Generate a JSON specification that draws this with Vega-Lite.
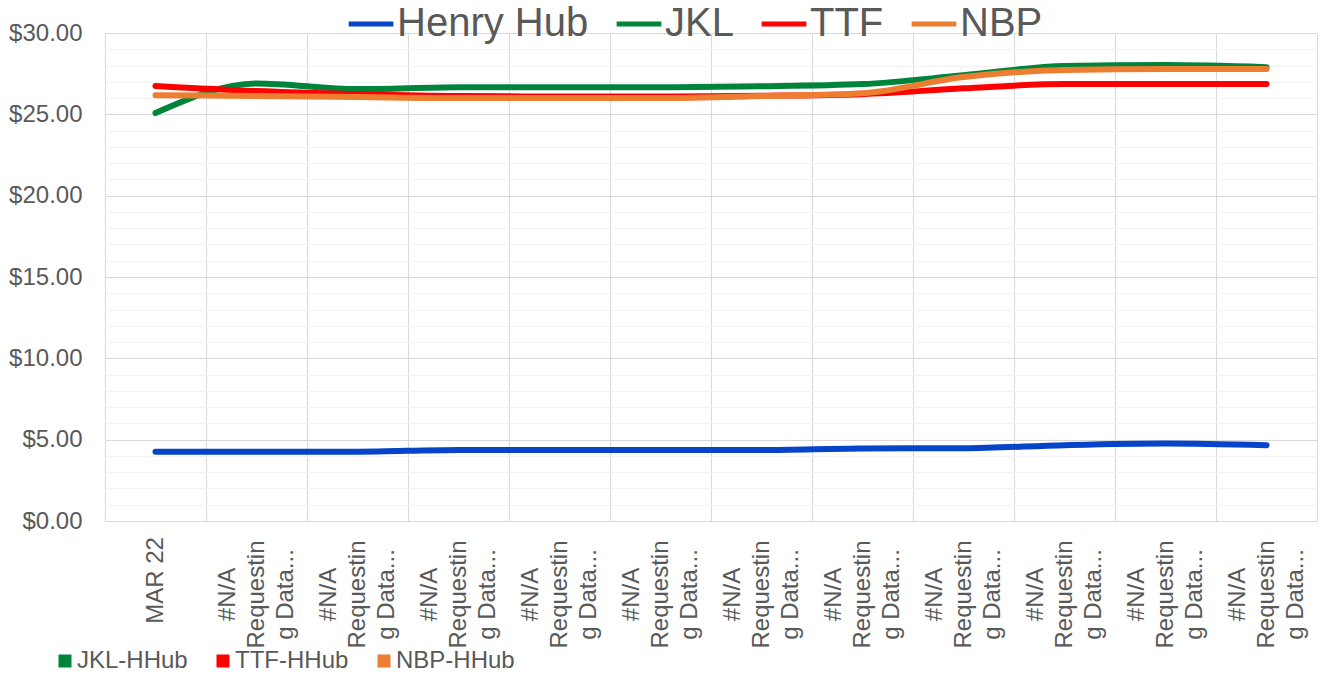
{
  "$schema": "https://vega.github.io/schema/vega-lite/v6.json",
  "width": 1212,
  "height": 488,
  "autosize": {"type": "none"},
  "padding": {"left": 105, "top": 33, "right": 7, "bottom": 152},
  "background": "white",
  "config": {
    "view": {"stroke": "#D9D9D9", "strokeWidth": 1},
    "font": "Liberation Sans"
  },
  "datasets": {
    "prices": [
      {"i": 0, "series": "Henry Hub", "v": 4.25},
      {"i": 1, "series": "Henry Hub", "v": 4.25},
      {"i": 2, "series": "Henry Hub", "v": 4.26},
      {"i": 3, "series": "Henry Hub", "v": 4.37},
      {"i": 4, "series": "Henry Hub", "v": 4.37},
      {"i": 5, "series": "Henry Hub", "v": 4.37},
      {"i": 6, "series": "Henry Hub", "v": 4.37},
      {"i": 7, "series": "Henry Hub", "v": 4.46},
      {"i": 8, "series": "Henry Hub", "v": 4.47},
      {"i": 9, "series": "Henry Hub", "v": 4.66},
      {"i": 10, "series": "Henry Hub", "v": 4.76},
      {"i": 11, "series": "Henry Hub", "v": 4.66},
      {"i": 0, "series": "JKL", "v": 25.08},
      {"i": 1, "series": "JKL", "v": 26.9},
      {"i": 2, "series": "JKL", "v": 26.55},
      {"i": 3, "series": "JKL", "v": 26.67},
      {"i": 4, "series": "JKL", "v": 26.67},
      {"i": 5, "series": "JKL", "v": 26.67},
      {"i": 6, "series": "JKL", "v": 26.72},
      {"i": 7, "series": "JKL", "v": 26.86},
      {"i": 8, "series": "JKL", "v": 27.4},
      {"i": 9, "series": "JKL", "v": 27.97},
      {"i": 10, "series": "JKL", "v": 28.03},
      {"i": 11, "series": "JKL", "v": 27.9},
      {"i": 0, "series": "TTF", "v": 26.74},
      {"i": 1, "series": "TTF", "v": 26.43},
      {"i": 2, "series": "TTF", "v": 26.24},
      {"i": 3, "series": "TTF", "v": 26.12},
      {"i": 4, "series": "TTF", "v": 26.1},
      {"i": 5, "series": "TTF", "v": 26.1},
      {"i": 6, "series": "TTF", "v": 26.14},
      {"i": 7, "series": "TTF", "v": 26.24},
      {"i": 8, "series": "TTF", "v": 26.6},
      {"i": 9, "series": "TTF", "v": 26.86},
      {"i": 10, "series": "TTF", "v": 26.86},
      {"i": 11, "series": "TTF", "v": 26.86},
      {"i": 0, "series": "NBP", "v": 26.18},
      {"i": 1, "series": "NBP", "v": 26.12},
      {"i": 2, "series": "NBP", "v": 26.06},
      {"i": 3, "series": "NBP", "v": 26.0},
      {"i": 4, "series": "NBP", "v": 26.0},
      {"i": 5, "series": "NBP", "v": 26.0},
      {"i": 6, "series": "NBP", "v": 26.12},
      {"i": 7, "series": "NBP", "v": 26.3},
      {"i": 8, "series": "NBP", "v": 27.29},
      {"i": 9, "series": "NBP", "v": 27.72},
      {"i": 10, "series": "NBP", "v": 27.78},
      {"i": 11, "series": "NBP", "v": 27.78}
    ],
    "spreads": [
      {"series": "JKL-HHub", "v": null},
      {"series": "TTF-HHub", "v": null},
      {"series": "NBP-HHub", "v": null}
    ]
  },
  "resolve": {"axis": {"x": "independent", "y": "independent"}, "scale": {"color": "independent"}, "legend": {"color": "independent"}},
  "layer": [
    {
      "data": {"name": "prices"},
      "mark": {"type": "line", "strokeOpacity": 0},
      "encoding": {
        "x": {
          "field": "i", "type": "ordinal", "bandPosition": 0.5,
          "scale": {"type": "band", "paddingInner": 0, "paddingOuter": 0},
          "axis": {
            "orient": "bottom", "title": null, "labels": false, "ticks": false, "domain": false,
            "grid": true, "gridColor": "#D9D9D9", "bandPosition": 0
          }
        },
        "y": {
          "field": "v", "type": "quantitative",
          "scale": {"domain": [0, 30], "nice": false, "zero": true},
          "axis": {
            "orient": "left", "title": null, "values": [0,1,2,3,4,5,6,7,8,9,10,11,12,13,14,15,16,17,18,19,20,21,22,23,24,25,26,27,28,29,30],
            "grid": true, "gridColor": "#F2F2F2", "labels": false, "ticks": false, "domain": false
          }
        },
        "detail": {"field": "series"}
      }
    },
    {
      "data": {"name": "prices"},
      "mark": {"type": "line", "strokeWidth": 6, "strokeCap": "round", "interpolate": "monotone"},
      "encoding": {
        "x": {
          "field": "i", "type": "ordinal", "bandPosition": 0.5,
          "scale": {"type": "band", "paddingInner": 0, "paddingOuter": 0},
          "axis": {
            "orient": "bottom", "title": null, "labelAngle": -90, "labelAlign": "center", "labelBaseline": "middle",
            "labelPadding": {"condition": {"test": "datum.value == 0", "value": 59}, "value": 73},
            "labelOffset": {"condition": {"test": "datum.value == 0", "value": 0}, "value": -29},
            "labelLineHeight": 29, "labelFontSize": 24, "labelColor": "#595959",
            "labelExpr": "datum.value == 0 ? 'MAR 22' : ['#N/A', 'Requestin', 'g Data...']",
            "labelOverlap": false, "labelBound": false, "labelFlush": false,
            "grid": false, "ticks": false, "domain": false
          }
        },
        "y": {
          "field": "v", "type": "quantitative",
          "scale": {"domain": [0, 30], "nice": false, "zero": true},
          "axis": {
            "orient": "left", "title": null, "values": [0, 5, 10, 15, 20, 25, 30], "format": "$.2f",
            "labelFontSize": 24, "labelColor": "#595959", "labelPadding": 23,
            "grid": true, "gridColor": "#D9D9D9", "ticks": false, "domain": false
          }
        },
        "color": {
          "field": "series", "type": "nominal",
          "scale": {"domain": ["Henry Hub", "JKL", "TTF", "NBP"], "range": ["#0645C8", "#00843C", "#FF0000", "#ED7D31"]},
          "legend": {
            "title": null, "orient": "none", "legendX": 241, "legendY": -34, "direction": "horizontal",
            "symbolType": "stroke", "symbolSize": 2000, "symbolStrokeWidth": 5,
            "labelFontSize": 40, "labelColor": "#595959", "labelOffset": 1, "labelLimit": 0, "columnPadding": 17, "padding": 0
          }
        }
      }
    },
    {
      "data": {"name": "spreads"},
      "mark": {"type": "point", "shape": "square", "filled": true},
      "encoding": {
        "y": {"field": "v", "type": "quantitative", "axis": null},
        "color": {
          "field": "series", "type": "nominal",
          "scale": {"domain": ["JKL-HHub", "TTF-HHub", "NBP-HHub"], "range": ["#00843C", "#FF0000", "#ED7D31"]},
          "legend": {
            "title": null, "orient": "none", "legendX": -52, "legendY": 616, "direction": "horizontal",
            "symbolType": "square", "symbolSize": 169, "symbolStrokeWidth": 0, "symbolOpacity": 1,
            "labelFontSize": 24, "labelColor": "#595959", "labelOffset": 0, "labelLimit": 0, "columnPadding": 23, "padding": 0
          }
        }
      }
    }
  ]
}
